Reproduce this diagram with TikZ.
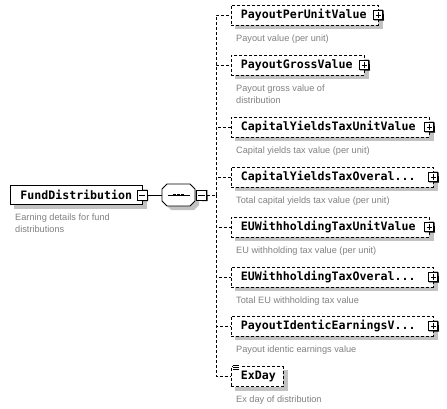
\documentclass[tikz,border=0pt]{standalone}
\usepackage{fontspec}
\setmainfont{Liberation Sans}
\setmonofont{DejaVu Sans Mono}
\usetikzlibrary{positioning,backgrounds}
\definecolor{descgray}{RGB}{128,128,128}
\definecolor{shadegray}{RGB}{194,194,194}

\begin{document}
\begin{tikzpicture}[x=1pt, y=-1pt,
  elem/.style={draw, dash pattern=on 3pt off 2pt, fill=white, line width=0.8pt,
    minimum height=20pt, inner xsep=9.5pt, inner ysep=0pt, anchor=west, align=left,
    font=\ttfamily\bfseries\fontsize{11.6}{13}\selectfont},
  mainbox/.style={elem, solid, minimum height=19pt, inner xsep=10pt},
  desc/.style={inner sep=0pt, align=left, text=descgray,
    font=\fontsize{9.2}{12}\selectfont},
  expand/.style={draw, solid, fill=white, line width=0.8pt, minimum size=9pt, inner sep=0pt,
    path picture={\draw[line width=0.8pt]
      ([yshift=-1.8pt]path picture bounding box.north) -- ([yshift=1.8pt]path picture bounding box.south)
      ([xshift=1.8pt]path picture bounding box.west) -- ([xshift=-1.8pt]path picture bounding box.east);}},
  collapse/.style={expand, minimum size=10pt,
    path picture={\draw[line width=0.8pt]
      ([xshift=1.8pt]path picture bounding box.west) -- ([xshift=-1.8pt]path picture bounding box.east);}},
  link/.style={line width=0.8pt, dash pattern=on 3pt off 2pt}]
\useasboundingbox (0,0) rectangle (447,409);

% root element and sequence compositor
\node[mainbox, text width=112pt] (fund) at (10,195) {FundDistribution};
\node[desc] (dfund) [below right=9pt and 5pt of fund.south west] {Earning details for fund\\distributions};
\node[minimum width=33pt, minimum height=22pt, inner sep=0pt] (seq) at (178.5,195) {};
\fill[shadegray] ([shift={(4pt,-4pt)}]seq.center) +(-16.5,-6) -- +(-11.5,-11) -- +(11.5,-11) -- +(16.5,-6)
  -- +(16.5,6) -- +(11.5,11) -- +(-11.5,11) -- +(-16.5,6) -- cycle;
\draw[line width=0.8pt, fill=white] (seq.center) +(-16.5,-6) -- +(-11.5,-11) -- +(11.5,-11) -- +(16.5,-6)
  -- +(16.5,6) -- +(11.5,11) -- +(-11.5,11) -- +(-16.5,6) -- cycle;
\draw[line width=0.8pt] ([xshift=-11pt]seq.center) -- ([xshift=11pt]seq.center);
\foreach \dx in {-4,0,4}
  \fill ([xshift=\dx pt]seq.center) +(-1.4,-1.4) rectangle +(1.4,1.4);
\coordinate (fork) at (216,195);

% child elements
\node[elem, text width=128pt] (pu) at (231,15) {PayoutPerUnitValue};
\node[elem, text width=114pt] (gross) at (231,65) {PayoutGrossValue};
\node[elem, text width=179pt] (cytu) at (231,127) {CapitalYieldsTaxUnitValue};
\node[elem, text width=183pt] (cyto) at (231,177) {CapitalYieldsTaxOveral...};
\node[elem, text width=179pt] (eutu) at (231,227) {EUWithholdingTaxUnitValue};
\node[elem, text width=183pt] (euto) at (231,277) {EUWithholdingTaxOveral...};
\node[elem, text width=183pt] (pie) at (231,326) {PayoutIdenticEarningsV...};
\node[elem, text width=33pt, align=center] (exday) at (231,376.5) {ExDay};

% shadows
\begin{scope}[on background layer]
  \foreach \n in {fund,pu,gross,cytu,cyto,eutu,euto,pie,exday}
    \fill[shadegray] ([shift={(4pt,-4pt)}]\n.north west) rectangle ([shift={(4pt,-4pt)}]\n.south east);
\end{scope}

% expand / collapse buttons
\node[collapse] (fundminus) at (142,195) {};
\node[collapse] (seqminus) at (201.5,195) {};
\foreach \n in {pu,gross,cytu,cyto,eutu,euto,pie}
  \node[expand] (\n plus) at ([xshift=-0.5pt]\n.east) {};
\foreach \n in {fundminus,seqminus,puplus,grossplus,cytuplus,cytoplus,eutuplus,eutoplus,pieplus}
  \draw[line width=0.8pt] ([xshift=0.4pt]\n.south west) -- ([xshift=0.4pt,yshift=-0.4pt]\n.south east) -- ([yshift=-0.4pt]\n.north east);
\fill[white] ([xshift=1.5pt,yshift=2pt]exday.north west) rectangle ++(7,6);
\foreach \dy in {-1,1,3}
  \draw[line width=0.8pt] ([xshift=2pt,yshift=-\dy pt]exday.north west) -- ++(5.5,0);

% descriptions
\node[desc] (dpu) [below right=9pt and 5pt of pu.south west] {Payout value (per unit)};
\node[desc] (dgross) [below right=9pt and 5pt of gross.south west] {Payout gross value of\\distribution};
\node[desc] (dcytu) [below right=9pt and 5pt of cytu.south west] {Capital yields tax value (per unit)};
\node[desc] (dcyto) [below right=9pt and 5pt of cyto.south west] {Total capital yields tax value (per unit)};
\node[desc] (deutu) [below right=9pt and 5pt of eutu.south west] {EU withholding tax value (per unit)};
\node[desc] (deuto) [below right=9pt and 5pt of euto.south west] {Total EU withholding tax value};
\node[desc] (dpie) [below right=9pt and 5pt of pie.south west] {Payout identic earnings value};
\node[desc] (dexday) [below right=9pt and 5pt of exday.south west] {Ex day of distribution};

% connectors
\draw[line width=0.8pt] (fundminus) -- (seq.west);
\draw[link] (seqminus) -- (fork);
\foreach \n in {pu,gross,cytu,cyto,eutu,euto,pie,exday}
  \draw[link] (fork) |- (\n.west);
\end{tikzpicture}
\end{document}
